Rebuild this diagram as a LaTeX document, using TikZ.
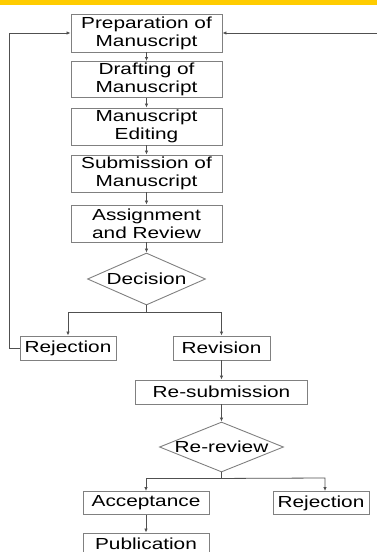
\documentclass[tikz,border=0pt]{standalone}
\usepackage{fontspec}
\setmainfont{Liberation Sans}[FakeStretch=1.3]
\usetikzlibrary{shapes.geometric,arrows.meta}
\definecolor{boxgray}{HTML}{808080}
\definecolor{linegray}{HTML}{505050}
\definecolor{topyellow}{HTML}{FFCC00}
\begin{document}
\begin{tikzpicture}[x=1pt,y=-1pt,
  stepbox/.style={draw=boxgray, line width=0.9pt, rectangle, inner sep=0pt, align=center, font=\fontsize{16}{18}\selectfont},
  decbox/.style={draw=boxgray, line width=0.9pt, diamond, inner sep=0pt, font=\fontsize{16}{18}\selectfont},
  conn/.style={draw=linegray, line width=0.8pt},
  arr/.style={conn, -{Latex[length=4pt,width=3.5pt]}}]
\useasboundingbox (0,0) rectangle (377,552);
\clip (0,0) rectangle (377,552);
\fill[topyellow] (0,0) rectangle (377,5);
% main column
\node[stepbox, minimum width=151pt, minimum height=38pt] (prep) at (146.5,33) {Preparation of\\Manuscript};
\node[stepbox, minimum width=151pt, minimum height=36pt] (draft) at (146.5,79.5) {Drafting of\\Manuscript};
\node[stepbox, minimum width=151pt, minimum height=37pt] (edit) at (146.5,126.5) {Manuscript\\Editing};
\node[stepbox, minimum width=151pt, minimum height=37pt] (subm) at (146.5,173.5) {Submission of\\Manuscript};
\node[stepbox, minimum width=151pt, minimum height=37pt] (assign) at (146.5,223.5) {Assignment\\and Review};
\node[decbox, minimum width=118pt, minimum height=52pt] (dec) at (146.5,279) {\makebox[0pt]{Decision}};
\node[stepbox, minimum width=96pt, minimum height=24pt] (rej1) at (68,348) {Rejection};
\node[stepbox, minimum width=97pt, minimum height=24pt] (rev) at (221.5,348) {Revision};
\node[stepbox, minimum width=172pt, minimum height=24pt] (resub) at (221.5,392) {Re-submission};
\node[decbox, minimum width=124pt, minimum height=50pt] (rerev) at (221.5,447) {\makebox[0pt]{Re-review}};
\node[stepbox, minimum width=126pt, minimum height=23pt] (acc) at (146,503) {Acceptance};
\node[stepbox, minimum width=96pt, minimum height=23pt] (rej2) at (321,503) {Rejection};
\node[stepbox, minimum width=126pt, minimum height=22pt] (pub) at (146,544) {Publication};
% connectors
\draw[arr] (prep) -- (draft);
\draw[arr] (draft) -- (edit);
\draw[arr] (edit) -- (subm);
\draw[arr] (subm) -- (assign);
\draw[arr] (assign) -- (dec);
\draw[conn] (dec.south) -- ++(0,7) coordinate (s1);
\draw[arr] (s1) -| (rej1.north);
\draw[arr] (s1) -| (rev.north);
\draw[arr] (rev) -- (resub);
\draw[arr] (resub) -- (rerev);
\draw[conn] (rerev.south) -- ++(0,6) coordinate (s2);
\draw[arr] (s2) -| (acc.north);
\coordinate (r2x) at (325,478);
\draw[arr] (s2) -- (r2x) -- (r2x |- rej2.north);
\draw[arr] (acc) -- (pub);
\draw[arr] (rej1.west) -- ++(-10,0) |- (prep.west);
\coordinate (rin) at (377,33);
\draw[arr] (rin) -- (prep.east);
\end{tikzpicture}
\end{document}
